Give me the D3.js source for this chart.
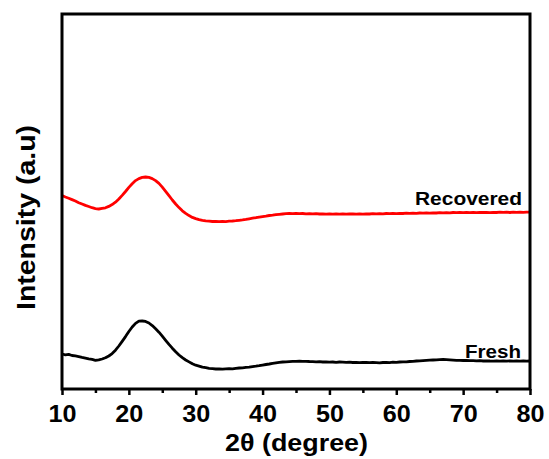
<!DOCTYPE html>
<html>
<head>
<meta charset="utf-8">
<script src="https://cdn.jsdelivr.net/npm/d3@7"></script>
<style>
  body { margin: 0; background: #fff; }
  svg { display: block; font-family: Arial, "Liberation Sans", sans-serif; }
</style>
</head>
<body>
<svg id="chart" width="549" height="459"></svg>
<script>
// 2θ sampling grid (degrees)
const twoTheta = d3.range(10, 80.01, 0.5);

// Fresh catalyst pattern (a.u.)
const fresh = [
  35.0, 34.2, 34.6, 33.5, 33.1, 32.4, 31.6, 30.9, 30.2, 29.6,
  28.6, 29.1, 30.0, 31.2, 33.0, 35.4, 38.8, 43.0, 47.6, 52.4,
  57.5, 62.0, 65.6, 67.8, 68.0, 67.6, 66.0, 63.4, 60.2, 56.8,
  52.9, 48.7, 44.6, 40.8, 37.2, 34.0, 31.3, 29.0, 27.1, 25.2,
  23.8, 22.9, 21.8, 21.3, 20.6, 20.3, 20.0, 20.2, 19.8, 20.1,
  20.4, 20.2, 20.7, 21.0, 21.2, 21.6, 21.9, 22.4, 22.8, 23.3,
  23.9, 24.5, 25.0, 25.6, 26.1, 26.6, 27.0, 27.2, 27.4, 27.6,
  27.7, 27.8, 27.6, 27.7, 27.5, 27.4, 27.2, 27.3, 27.0, 27.1,
  26.9, 27.0, 26.7, 27.0, 26.8, 26.6, 26.9, 26.5, 26.7, 26.4,
  26.7, 26.5, 26.3, 26.6, 26.4, 26.2, 26.5, 26.6, 26.4, 26.8,
  26.7, 27.0, 27.2, 27.1, 27.5, 27.7, 28.0, 28.2, 28.4, 28.6,
  28.8, 29.0, 29.2, 29.4, 29.5, 29.3, 29.1, 28.9, 28.7, 28.6,
  28.5, 28.6, 28.3, 28.4, 28.1, 28.3, 28.0, 28.2, 28.0, 27.9,
  28.1, 27.8, 28.0, 27.9, 28.1, 27.8, 28.0, 27.9, 28.1, 27.8,
  28.0
];

// Recovered catalyst pattern (a.u.)
const recovered = [
  193.5, 192.0, 190.8, 189.4, 188.0, 186.3, 185.0, 183.6, 182.5, 181.3,
  180.4, 180.0, 180.6, 181.2, 182.6, 184.4, 186.8, 190.0, 193.6, 197.5,
  201.6, 205.2, 208.4, 210.4, 211.6, 212.0, 211.6, 210.4, 208.4, 205.6,
  201.9, 197.6, 193.3, 189.0, 185.0, 181.4, 178.2, 175.6, 173.4, 171.6,
  170.4, 169.3, 168.6, 168.1, 167.8, 167.5, 167.7, 167.3, 167.6, 167.4,
  167.8, 168.0, 168.3, 168.7, 169.1, 169.6, 170.2, 170.8, 171.3, 171.9,
  172.4, 172.9, 173.5, 173.9, 174.4, 174.7, 175.0, 175.3, 175.5, 175.4,
  175.6, 175.3, 175.5, 175.2, 175.4, 175.1, 175.3, 175.0, 175.2, 174.9,
  175.1, 174.8, 175.0, 174.9, 175.1, 174.8, 175.0, 175.2, 174.9, 175.1,
  174.9, 175.2, 175.0, 175.3, 175.1, 175.4, 175.2, 175.5, 175.3, 175.6,
  175.4, 175.7, 175.5, 175.8, 175.6, 175.9, 175.7, 176.0, 175.8, 176.1,
  175.9, 176.2, 176.0, 176.3, 176.1, 176.4, 176.2, 176.5, 176.3, 176.5,
  176.4, 176.6, 176.3, 176.6, 176.4, 176.7, 176.5, 176.6, 176.4, 176.7,
  176.5, 176.8, 176.6, 176.8, 176.5, 176.8, 176.6, 176.9, 176.7, 176.9,
  176.8
];

const majorTicks = [10, 20, 30, 40, 50, 60, 70, 80];
const minorTicks = [15, 25, 35, 45, 55, 65, 75];

const series = [
  { name: 'Fresh', values: fresh, color: '#000000' },
  { name: 'Recovered', values: recovered, color: '#ff0000' }
];

const svg = d3.select('#chart');
const plot = { left: 62, right: 530, top: 14, bottom: 389 };

const x = d3.scaleLinear().domain([10, 80]).range([plot.left, plot.right]);
const y = d3.scaleLinear().domain([0, 375]).range([plot.bottom, plot.top]);

// Curves
const line = d3.line()
  .x((d, i) => x(twoTheta[i]))
  .y(d => y(d));

series.forEach(s => {
  svg.append('path')
    .datum(s.values)
    .attr('d', line)
    .attr('fill', 'none')
    .attr('stroke', s.color)
    .attr('stroke-width', 2.8)
    .attr('stroke-linejoin', 'round');
});

// Minor ticks
svg.append('g')
  .attr('transform', `translate(0,${plot.bottom})`)
  .call(d3.axisBottom(x).tickValues(minorTicks).tickSize(4).tickSizeOuter(0).tickFormat(''))
  .call(g => g.select('.domain').remove())
  .call(g => g.selectAll('line').attr('stroke', '#000').attr('stroke-width', 2.5));

// Major ticks + labels
svg.append('g')
  .attr('transform', `translate(0,${plot.bottom})`)
  .call(d3.axisBottom(x).tickValues(majorTicks).tickSize(6).tickSizeOuter(0).tickPadding(10))
  .call(g => g.select('.domain').remove())
  .call(g => g.selectAll('line').attr('stroke', '#000').attr('stroke-width', 2.5))
  .call(g => g.selectAll('text')
    .attr('fill', '#000')
    .attr('font-size', '24px')
    .attr('font-weight', 'bold')
    .attr('font-family', 'Arial, "Liberation Sans", sans-serif')
    .attr('textLength', 28)
    .attr('lengthAdjust', 'spacingAndGlyphs'));

// Frame
svg.append('rect')
  .attr('x', plot.left).attr('y', plot.top)
  .attr('width', plot.right - plot.left).attr('height', plot.bottom - plot.top)
  .attr('fill', 'none')
  .attr('stroke', '#000')
  .attr('stroke-width', 3);

// Series labels
svg.append('text')
  .attr('x', 415).attr('y', 205)
  .attr('font-size', '19px').attr('font-weight', 'bold')
  .attr('textLength', 107).attr('lengthAdjust', 'spacingAndGlyphs')
  .text('Recovered');

svg.append('text')
  .attr('x', 465).attr('y', 358)
  .attr('font-size', '19px').attr('font-weight', 'bold')
  .attr('textLength', 56).attr('lengthAdjust', 'spacingAndGlyphs')
  .text('Fresh');

// Axis titles
svg.append('text')
  .attr('x', 296.5).attr('y', 451)
  .attr('text-anchor', 'middle')
  .attr('font-size', '23px').attr('font-weight', 'bold')
  .attr('textLength', 143).attr('lengthAdjust', 'spacingAndGlyphs')
  .text('2θ (degree)');

svg.append('text')
  .attr('transform', 'translate(35,217.5) rotate(-90)')
  .attr('text-anchor', 'middle')
  .attr('font-size', '25px').attr('font-weight', 'bold')
  .attr('textLength', 185).attr('lengthAdjust', 'spacingAndGlyphs')
  .text('Intensity (a.u)');
</script>
</body>
</html>
